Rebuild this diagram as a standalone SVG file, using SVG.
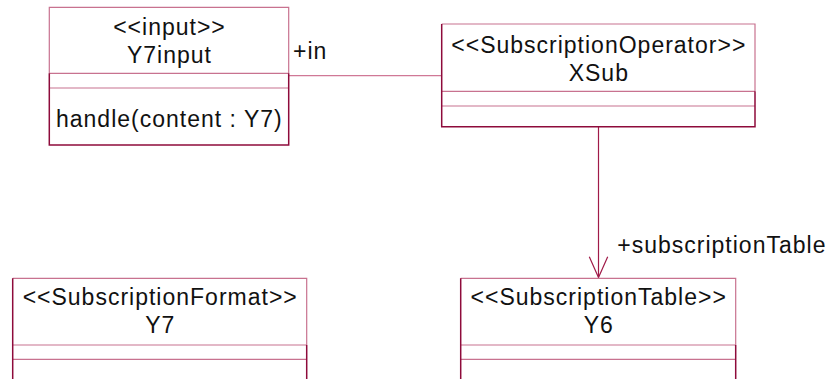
<svg xmlns="http://www.w3.org/2000/svg" width="832" height="379" viewBox="0 0 832 379">
<style>
  text { font-family: "Liberation Sans", Arial, sans-serif; font-size: 23px; fill: #111; letter-spacing: 1px; }
  .c { text-anchor: middle; }
  .light { fill: none; stroke: #c8728f; stroke-width: 1.2; }
  .dark { fill: none; stroke: #8e0b3b; stroke-width: 1.5; }
  .conn { fill: none; stroke: #a01a48; stroke-width: 1.2; }
  .connlight { fill: none; stroke: #d07896; stroke-width: 1.2; }
</style>
<rect width="832" height="379" fill="#ffffff"/>
<g id="connectors">
  <line class="connlight" x1="288.7" y1="75.7" x2="441.7" y2="75.7"/>
  <text x="293" y="59">+in</text>
  <line class="conn" x1="598.5" y1="126.7" x2="598.5" y2="277.5"/>
  <polyline class="conn" points="589.3,256.7 598.5,277.5 607.7,256.7"/>
  <text x="617.3" y="252.7">+subscriptionTable</text>
</g>
<g id="Y7input">
  <rect x="49.3" y="7.3" width="239.4" height="137.7" fill="#fff"/>
  <path class="light" d="M49.3,73.3 V7.3 H288.7 V73.3 M49.3,73.3 H288.7 M49.3,88 H288.7"/>
  <path class="dark" d="M49.3,73.3 V145 H288.7 V73.3"/>
  <text class="c" x="169.5" y="35">&lt;&lt;input&gt;&gt;</text>
  <text class="c" x="169.5" y="63">Y7input</text>
  <text x="56" y="127">handle(content : Y7)</text>
</g>
<g id="XSub">
  <rect x="441.7" y="24" width="313.3" height="102.7" fill="#fff"/>
  <path class="light" d="M441.7,24 H755 V91.3 M441.7,91.3 H755 M441.7,106 H755"/>
  <path class="dark" d="M441.7,24 V126.7 H755 V91.3"/>
  <text class="c" x="598.8" y="53">&lt;&lt;SubscriptionOperator&gt;&gt;</text>
  <text class="c" x="598.8" y="81">XSub</text>
</g>
<g id="Y7">
  <rect x="12.7" y="278.3" width="294" height="110" fill="#fff"/>
  <path class="light" d="M12.7,278.3 H306.7 V345 M12.7,345 H306.7 M12.7,359.3 H306.7"/>
  <path class="dark" d="M12.7,278.3 V390 M306.7,345 V390"/>
  <text class="c" x="160.2" y="305">&lt;&lt;SubscriptionFormat&gt;&gt;</text>
  <text class="c" x="160.2" y="333">Y7</text>
</g>
<g id="Y6">
  <rect x="460.7" y="278.3" width="275" height="110" fill="#fff"/>
  <path class="light" d="M460.7,278.3 H735.7 V345 M460.7,345 H735.7 M460.7,359.3 H735.7"/>
  <path class="dark" d="M460.7,278.3 V390 M735.7,345 V390"/>
  <text class="c" x="598.7" y="305">&lt;&lt;SubscriptionTable&gt;&gt;</text>
  <text class="c" x="598.7" y="333">Y6</text>
</g>
</svg>
